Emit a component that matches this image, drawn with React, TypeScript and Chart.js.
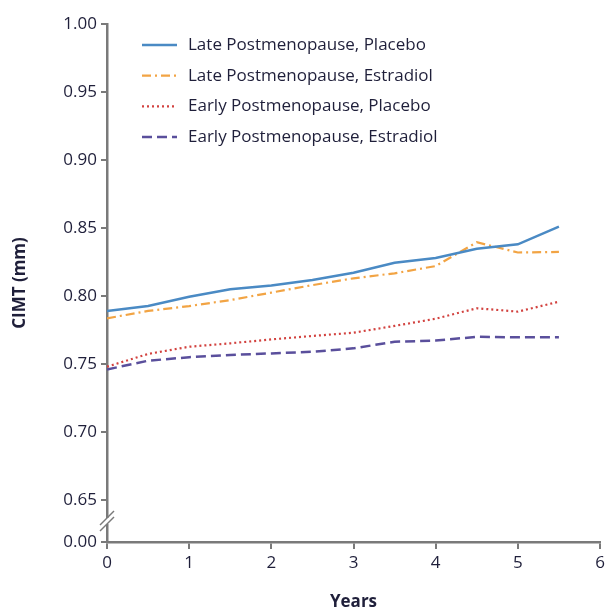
import React, { useEffect, useRef } from "react";
import { Chart, registerables } from "chart.js";

Chart.register(...registerables);

const YEARS = [0, 0.5, 1, 1.5, 2, 2.5, 3, 3.5, 4, 4.5, 5, 5.5];
const LATE_PLACEBO = [0.789, 0.7926, 0.7995, 0.8049, 0.8078, 0.8118, 0.8171, 0.8245, 0.828, 0.8348, 0.838, 0.851];
const LATE_ESTRADIOL = [0.7836, 0.789, 0.7926, 0.797, 0.8025, 0.808, 0.813, 0.8167, 0.822, 0.8395, 0.832, 0.8324];
const EARLY_PLACEBO = [0.748, 0.7574, 0.7627, 0.7652, 0.7681, 0.7706, 0.773, 0.778, 0.7833, 0.791, 0.7885, 0.7958];
const EARLY_ESTRADIOL = [0.746, 0.7524, 0.755, 0.7566, 0.7578, 0.759, 0.7615, 0.7664, 0.7672, 0.77, 0.7696, 0.7696];
const SERIES_NAMES = [
  "Late Postmenopause, Placebo",
  "Late Postmenopause, Estradiol",
  "Early Postmenopause, Placebo",
  "Early Postmenopause, Estradiol",
];
const Y_TICKS = [0.65, 0.7, 0.75, 0.8, 0.85, 0.9, 0.95, 1.0];
const Y_BREAK_LABEL = "0.00";
const X_TICKS = [0, 1, 2, 3, 4, 5, 6];

const FONT = "'Open Sans', Lato, sans-serif";
const AXIS_COLOR = "#7a7a7a";
const TEXT_COLOR = "#1f1f3a";
// value used for the broken-axis "0.00" position (42px below 0.65 on a 1360px/unit scale)
const Y_MIN = 0.65 - 42 / 1360;

const legendAndBreak = {
  id: "legendAndBreak",
  afterDraw(chart: any) {
    const ctx = chart.ctx;
    const y = chart.scales.y;
    const x0 = chart.chartArea.left;
    // axis break
    const yb = (y.getPixelForValue(0.65) + y.getPixelForValue(Y_MIN)) / 2;
    ctx.save();
    ctx.fillStyle = "#fff";
    ctx.fillRect(x0 - 3, yb - 3, 6, 6);
    ctx.strokeStyle = AXIS_COLOR;
    ctx.lineWidth = 1.5;
    for (const d of [-3, 3]) {
      ctx.beginPath();
      ctx.moveTo(x0 - 7, yb + d + 7);
      ctx.lineTo(x0 + 7, yb + d - 7);
      ctx.stroke();
    }
    ctx.restore();

    // legend
    ctx.save();
    chart.data.datasets.forEach((ds: any, i: number) => {
      const ry = 45 + i * 30.7;
      ctx.strokeStyle = ds.borderColor;
      ctx.lineWidth = ds.borderWidth;
      ctx.setLineDash(ds.borderDash || []);
      ctx.beginPath();
      ctx.moveTo(142, ry);
      ctx.lineTo(177, ry);
      ctx.stroke();
      ctx.setLineDash([]);
      ctx.fillStyle = TEXT_COLOR;
      ctx.font = `17px ${FONT}`;
      ctx.textBaseline = "middle";
      ctx.textAlign = "left";
      ctx.fillText(ds.label, 188, ry);
    });
    ctx.restore();
  },
};

export default function App() {
  const ref = useRef<HTMLCanvasElement>(null);
  useEffect(() => {
    const toPts = (arr: number[]) => arr.map((v, i) => ({ x: YEARS[i], y: v }));
    const styles = [
      { color: "#4a8ac4", dash: [], width: 2.5 },
      { color: "#f2a444", dash: [9, 4, 2, 4], width: 2.2 },
      { color: "#d2423f", dash: [2, 3], width: 2.2 },
      { color: "#5a4f9c", dash: [10, 5], width: 2.5 },
    ];
    const values = [LATE_PLACEBO, LATE_ESTRADIOL, EARLY_PLACEBO, EARLY_ESTRADIOL];
    const chart = new Chart(ref.current!, {
      type: "line",
      data: {
        datasets: values.map((v, i) => ({
          label: SERIES_NAMES[i],
          data: toPts(v),
          borderColor: styles[i].color,
          borderDash: styles[i].dash,
          borderWidth: styles[i].width,
          pointRadius: 0,
          fill: false,
          tension: 0,
        })),
      },
      options: {
        animation: false,
        responsive: false,
        maintainAspectRatio: false,
        layout: { padding: { top: 24, right: 6, left: 0, bottom: 0 } },
        plugins: { legend: { display: false }, tooltip: { enabled: false } },
        scales: {
          x: {
            type: "linear",
            min: 0,
            max: 6,
            afterBuildTicks: (s: any) => {
              s.ticks = X_TICKS.map((v) => ({ value: v }));
            },
            afterFit: (s: any) => {
              s.height = 65;
              s.paddingLeft = 0;
              s.paddingRight = 0;
            },
            grid: { drawOnChartArea: false, drawTicks: true, tickLength: 7, color: AXIS_COLOR, lineWidth: 2 },
            border: { display: true, color: AXIS_COLOR, width: 2.5 },
            ticks: { color: TEXT_COLOR, font: { family: FONT, size: 17 }, padding: 4, maxRotation: 0 },
            title: {
              display: true,
              text: "Years",
              color: TEXT_COLOR,
              font: { family: FONT, size: 17, weight: "bold" },
              padding: { top: 4, bottom: -5 },
            },
          },
          y: {
            type: "linear",
            min: Y_MIN,
            max: 1.0,
            afterBuildTicks: (s: any) => {
              s.ticks = [Y_MIN, ...Y_TICKS].map((v) => ({ value: v }));
            },
            afterFit: (s: any) => {
              s.width = 107;
            },
            grid: { drawOnChartArea: false, drawTicks: true, tickLength: 6, color: AXIS_COLOR, lineWidth: 2 },
            border: { display: true, color: AXIS_COLOR, width: 2.5 },
            ticks: {
              color: TEXT_COLOR,
              font: { family: FONT, size: 17 },
              padding: 4,
              callback: (v: any) => (Math.abs(v - Y_MIN) < 1e-6 ? Y_BREAK_LABEL : Number(v).toFixed(2)),
            },
            title: {
              display: true,
              text: "CIMT (mm)",
              color: TEXT_COLOR,
              font: { family: FONT, size: 17, weight: "bold" },
              padding: { top: 10, bottom: 0 },
            },
          },
        },
      },
      plugins: [legendAndBreak],
    });
    return () => chart.destroy();
  }, []);
  return (
    <div style={{ position: "fixed", left: 0, top: 0, width: 606, height: 607, background: "#fff" }}>
      <canvas ref={ref} width={606} height={607} style={{ width: 606, height: 607 }} />
    </div>
  );
}
